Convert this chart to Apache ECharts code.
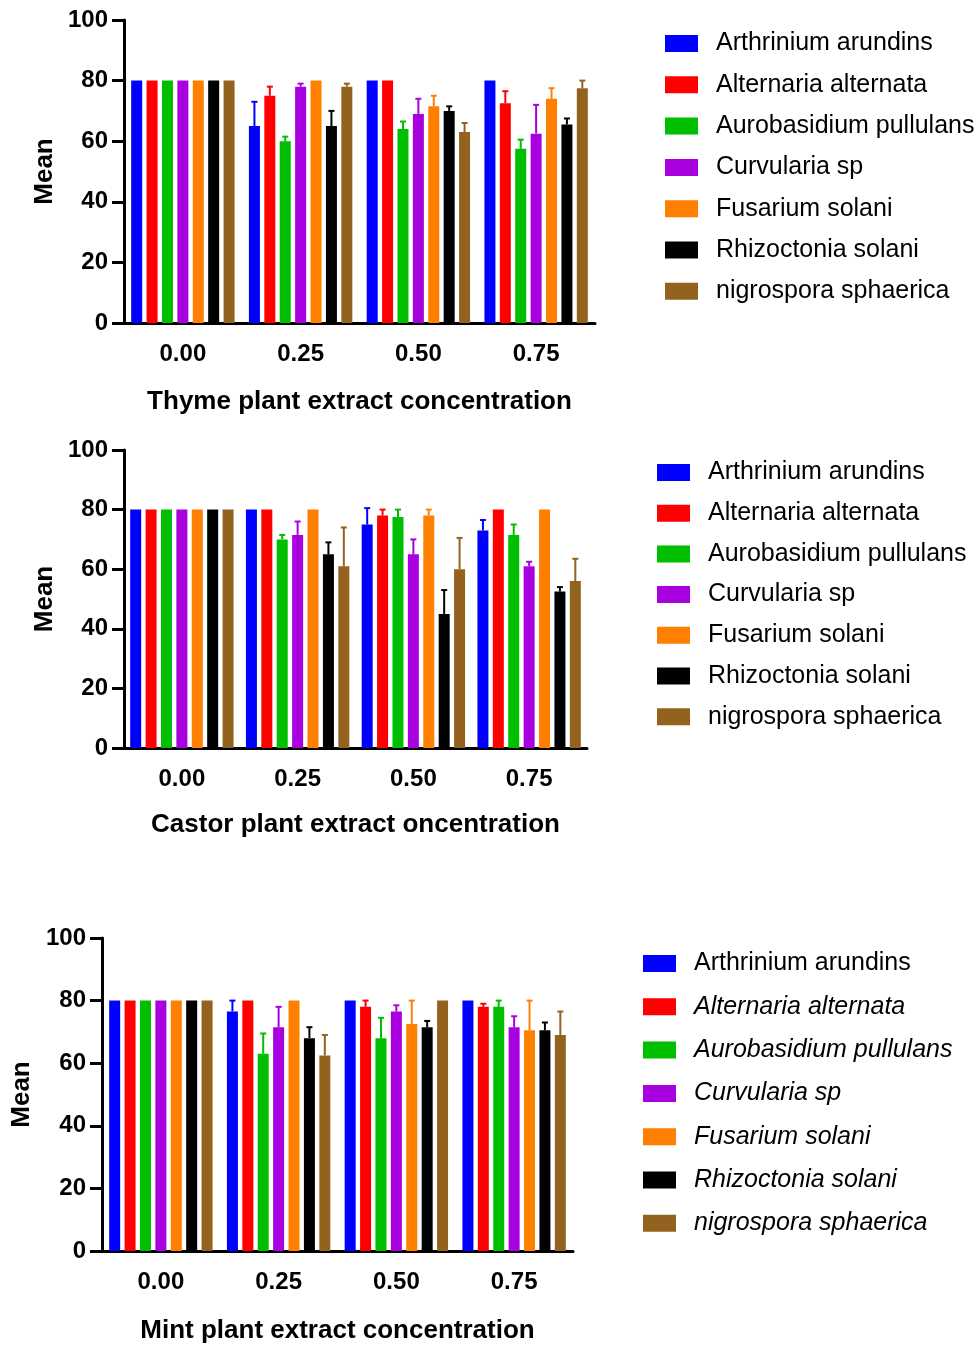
<!DOCTYPE html>
<html>
<head>
<meta charset="utf-8">
<script src="https://cdn.jsdelivr.net/npm/echarts@6/dist/echarts.min.js"></script>
<style>
html,body{margin:0;padding:0;background:#fff;}
#chart{width:976px;height:1345px;}
</style>
</head>
<body>
<div id="chart"></div>
<script>
// ---------- DATA ----------
const categories = ['0.00', '0.25', '0.50', '0.75'];
const species = ['Arthrinium arundins', 'Alternaria alternata', 'Aurobasidium pullulans',
  'Curvularia sp', 'Fusarium solani', 'Rhizoctonia solani', 'nigrospora sphaerica'];
const colors = ['#0000FF', '#FF0000', '#00BF00', '#A900E0', '#FF8000', '#000000', '#94621F'];
const yTicks = [0, 20, 40, 60, 80, 100];

// Thyme: one row per species, one value per concentration
const thymeMeans = [
  [80, 65, 80, 80],
  [80, 75, 80, 72.5],
  [80, 60, 64, 57.5],
  [80, 78, 69, 62.5],
  [80, 80, 71.5, 74],
  [80, 65, 70, 65.5],
  [80, 78, 63, 77.5]
];
const thymeErrs = [
  [0, 8, 0, 0],
  [0, 3, 0, 4],
  [0, 1.5, 2.5, 3],
  [0, 1, 5, 9.5],
  [0, 0, 3.5, 3.5],
  [0, 5, 1.5, 2],
  [0, 1, 3, 2.5]
];

// Castor
const castorMeans = [
  [80, 80, 75, 73],
  [80, 80, 78, 80],
  [80, 70, 77.5, 71.5],
  [80, 71.5, 65, 61],
  [80, 80, 78, 80],
  [80, 65, 45, 52.5],
  [80, 61, 60, 56]
];
const castorErrs = [
  [0, 0, 5.5, 3.5],
  [0, 0, 2, 0],
  [0, 1.5, 2.5, 3.5],
  [0, 4.5, 5, 1.5],
  [0, 0, 2, 0],
  [0, 4, 8, 1.5],
  [0, 13, 10.5, 7.5]
];

// Mint
const mintMeans = [
  [80, 76.5, 80, 80],
  [80, 80, 78, 78],
  [80, 63, 68, 78],
  [80, 71.5, 76.5, 71.5],
  [80, 80, 72.5, 70.5],
  [80, 68, 71.5, 70.5],
  [80, 62.5, 80, 69]
];
const mintErrs = [
  [0, 3.5, 0, 0],
  [0, 0, 2, 1],
  [0, 6.5, 6.5, 2],
  [0, 6.5, 2, 3.5],
  [0, 0, 7.5, 9.5],
  [0, 3.5, 2, 2.5],
  [0, 6.5, 0, 7.5]
];

const panelTitles = ['Thyme plant extract concentration', 'Castor plant extract oncentration', 'Mint plant extract concentration'];

// ---------- LAYOUT ----------
const FONT = '"Liberation Sans", Arial, sans-serif';
const BAR_W = 11;
const BAR_GAP = 0.4;
const panels = [
  {means: thymeMeans, errs: thymeErrs, grid: {left: 124, top: 20, width: 471, height: 303},
   legend: {left: 665, top: 31, gap: 16.3}, italic: false, yNameGap: 66, xNameGap: 66},
  {means: castorMeans, errs: castorErrs, grid: {left: 124, top: 450, width: 463, height: 298},
   legend: {left: 657, top: 460, gap: 15.7}, italic: false, yNameGap: 66, xNameGap: 64},
  {means: mintMeans, errs: mintErrs, grid: {left: 102, top: 938, width: 471, height: 313},
   legend: {left: 643, top: 951, gap: 18.3}, italic: true, yNameGap: 67, xNameGap: 67}
];

const grids = [], xAxes = [], yAxes = [], legends = [], series = [];

panels.forEach((p, pi) => {
  grids.push(Object.assign({containLabel: false}, p.grid));
  xAxes.push({
    type: 'category', gridIndex: pi, data: categories,
    name: panelTitles[pi], nameLocation: 'middle', nameGap: p.xNameGap,
    nameTextStyle: {fontFamily: FONT, fontWeight: 'bold', fontSize: 26, color: '#000'},
    axisLine: {lineStyle: {color: '#000', width: 3}},
    axisTick: {alignWithLabel: true, length: 10, lineStyle: {color: '#000', width: 3}},
    axisLabel: {interval: 0, fontFamily: FONT, fontWeight: 'bold', fontSize: 24, color: '#000', margin: 19},
    splitLine: {show: false}
  });
  yAxes.push({
    type: 'value', gridIndex: pi, min: yTicks[0], max: yTicks[yTicks.length - 1], interval: yTicks[1] - yTicks[0],
    name: 'Mean', nameLocation: 'middle', nameGap: p.yNameGap, nameRotate: 90,
    nameTextStyle: {fontFamily: FONT, fontWeight: 'bold', fontSize: 26, color: '#000'},
    axisLine: {show: true, lineStyle: {color: '#000', width: 3}},
    axisTick: {show: true, length: 12, lineStyle: {color: '#000', width: 3}},
    axisLabel: {fontFamily: FONT, fontWeight: 'bold', fontSize: 24, color: '#000', margin: 16},
    splitLine: {show: false}
  });
  legends.push({
    orient: 'vertical', left: p.legend.left, top: p.legend.top, padding: 0,
    itemWidth: 33, itemHeight: 17, itemGap: p.legend.gap, icon: 'rect',
    selectedMode: false,
    textStyle: {fontFamily: FONT, fontSize: 25, color: '#000', lineHeight: 24, padding: [0, 0, 0, 13]},
    data: species.map((s, si) => ({
      name: s,
      textStyle: {fontStyle: (p.italic && si > 0) ? 'italic' : 'normal'}
    }))
  });
  species.forEach((s, si) => {
    series.push({
      type: 'bar', name: s, xAxisIndex: pi, yAxisIndex: pi,
      data: p.means[si], barWidth: BAR_W, barGap: (BAR_GAP * 100) + '%',
      itemStyle: {color: colors[si]}, z: 2, silent: true
    });
  });
  species.forEach((s, si) => {
    const offset = (si - (species.length - 1) / 2) * BAR_W * (1 + BAR_GAP);
    series.push({
      type: 'custom', name: 'err-' + pi + '-' + si, xAxisIndex: pi, yAxisIndex: pi,
      data: categories.map((c, ci) => [ci, p.means[si][ci], p.errs[si][ci]]),
      encode: {x: 0, y: 1}, z: 3, silent: true,
      renderItem: function (params, api) {
        const ci = api.value(0), v = api.value(1), e = api.value(2);
        if (!e) return null;
        const p0 = api.coord([ci, v]);
        const p1 = api.coord([ci, v + e]);
        const x = p0[0] + offset;
        const st = {stroke: colors[si], lineWidth: 2};
        return {
          type: 'group', children: [
            {type: 'line', shape: {x1: x, y1: p0[1], x2: x, y2: p1[1]}, style: st},
            {type: 'line', shape: {x1: x - 3, y1: p1[1], x2: x + 3, y2: p1[1]}, style: st}
          ]
        };
      }
    });
  });
});

const chart = echarts.init(document.getElementById('chart'), null, {renderer: 'canvas'});
chart.setOption({
  animation: false,
  backgroundColor: '#fff',
  grid: grids, xAxis: xAxes, yAxis: yAxes, legend: legends, series: series
});
</script>
</body>
</html>
